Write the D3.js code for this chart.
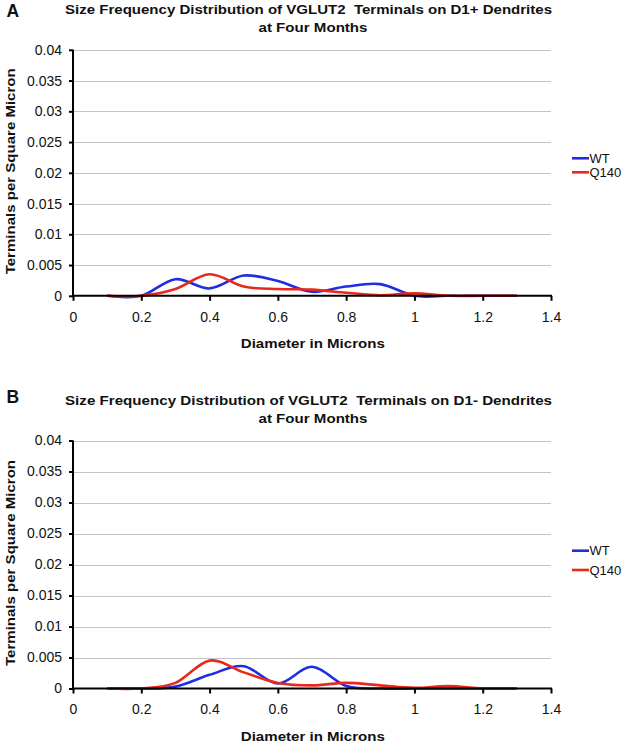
<!DOCTYPE html>
<html><head><meta charset="utf-8">
<script src="https://cdn.jsdelivr.net/npm/d3@7"></script>
<style>html,body{margin:0;padding:0;background:#fff;}svg{display:block;font-family:"Liberation Sans",Arial,Helvetica,sans-serif;}text{white-space:pre;}</style>
</head><body>
<svg id="chart" width="630" height="745"></svg>
<script>
// ---- data ----
const diameters = [0.1,0.2,0.3,0.4,0.5,0.6,0.7,0.8,0.9,1.0,1.1,1.2,1.3];
const seriesNames = ["WT","Q140"];
const panelA_WT   = [0,0,0.0027,0.0012,0.0033,0.0024,0.00065,0.0015,0.0019,0,0,0,0];
const panelA_Q140 = [0,0,0.0011,0.0035,0.0015,0.0011,0.0010,0.0005,0.0001,0.0004,0,0,0];
const panelB_WT   = [0,0,0.0003,0.0022,0.0036,0.0008,0.0035,0.0004,0,0,0,0,0];
const panelB_Q140 = [0,0,0.0009,0.0045,0.0026,0.0009,0.0005,0.0009,0.0005,0.0001,0.0004,0,0];
const yTicks = [0,0.005,0.01,0.015,0.02,0.025,0.03,0.035,0.04];
const xTicks = [0,0.2,0.4,0.6,0.8,1,1.2,1.4];
const panelLetters = ["A","B"];
const titleLine1 = ["Size Frequency Distribution of VGLUT2  Terminals on D1+ Dendrites",
                    "Size Frequency Distribution of VGLUT2  Terminals on D1- Dendrites"];
const titleLine2 = "at Four Months";
const xTitle = "Diameter in Microns";
const yTitle = "Terminals per Square Micron";

const colors = {WT:"#1f2ee0", Q140:"#e8281c"};
const svg = d3.select("#chart");

const panels = [
  {letter:panelLetters[0], t1:titleLine1[0], wt:panelA_WT, q:panelA_Q140,
   y0:295.8, y1:49.8, letterY:16.7, t1Y:13.6, t2Y:32.3, legY:[158.3,172.3]},
  {letter:panelLetters[1], t1:titleLine1[1], wt:panelB_WT, q:panelB_Q140,
   y0:688.5, y1:440.5, letterY:403.3, t1Y:405, t2Y:423, legY:[550.7,570]}
];

const x = d3.scaleLinear().domain([0,1.4]).range([73,551]);

panels.forEach(p => {
  const g = svg.append("g");
  const y = d3.scaleLinear().domain([0,0.04]).range([p.y0,p.y1]);

  // gridlines
  g.append("g").selectAll("line").data(yTicks.filter(d=>d>0)).join("line")
    .attr("x1",x(0)).attr("x2",x(1.4))
    .attr("y1",d=>Math.round(y(d))+0.5).attr("y2",d=>Math.round(y(d))+0.5)
    .attr("stroke","#c4c4c4").attr("stroke-width",1);

  // y axis
  const ya = g.append("g").attr("transform",`translate(${x(0)},0)`)
    .call(d3.axisLeft(y).tickValues(yTicks).tickSize(4).tickPadding(7)
      .tickFormat(d=>d3.format("")(+d.toFixed(3))));
  ya.select(".domain").attr("stroke","#000").attr("stroke-width",2).attr("d",`M0,${p.y1}V${p.y0}`);
  ya.selectAll(".tick line").attr("stroke","#000").attr("stroke-width",2);
  ya.selectAll(".tick text").attr("font-size",14).attr("fill","#111")
    .attr("font-family",'"Liberation Sans",Arial,sans-serif');

  // series lines
  const line = d3.line().x((d,i)=>x(diameters[i])).y(d=>y(d)).curve(d3.curveCatmullRom.alpha(0));
  [[p.wt,colors.WT],[p.q,colors.Q140]].forEach(([vals,c])=>{
    g.append("path").attr("d",line(vals)).attr("fill","none")
      .attr("stroke",c).attr("stroke-width",2.6).attr("stroke-linejoin","round");
  });

  // x axis
  const xa = g.append("g").attr("transform",`translate(0,${p.y0})`)
    .call(d3.axisBottom(x).tickValues(xTicks).tickSize(5).tickPadding(11)
      .tickFormat(d=>d3.format("")(+d.toFixed(1))));
  xa.select(".domain").attr("stroke","#000").attr("stroke-width",2).attr("d",`M${x(0)-1},0H${x(1.4)+1}`);
  xa.selectAll(".tick line").attr("stroke","#000").attr("stroke-width",2);
  xa.selectAll(".tick text").attr("font-size",14).attr("fill","#111")
    .attr("font-family",'"Liberation Sans",Arial,sans-serif');

  // titles
  g.append("text").attr("x",6.5).attr("y",p.letterY).text(p.letter)
    .attr("font-size",17.5).attr("font-weight","bold").attr("fill","#111");
  g.append("text").attr("x",308.5).attr("y",p.t1Y).attr("text-anchor","middle").text(p.t1)
    .attr("font-size",12.8).attr("font-weight","bold").attr("fill","#111")
    .attr("textLength",487).attr("lengthAdjust","spacingAndGlyphs");
  g.append("text").attr("x",313).attr("y",p.t2Y).attr("text-anchor","middle").text(titleLine2)
    .attr("font-size",12.8).attr("font-weight","bold").attr("fill","#111")
    .attr("textLength",109).attr("lengthAdjust","spacingAndGlyphs");
  g.append("text").attr("x",312.8).attr("y",p.y0+52.5).attr("text-anchor","middle").text(xTitle)
    .attr("font-size",13.5).attr("font-weight","bold").attr("fill","#111")
    .attr("textLength",144).attr("lengthAdjust","spacingAndGlyphs");
  const yc = (p.y0+p.y1)/2 - 1.5;
  g.append("text").attr("transform",`translate(14.5,${yc}) rotate(-90)`).attr("text-anchor","middle")
    .text(yTitle).attr("font-size",13.5).attr("font-weight","bold").attr("fill","#111")
    .attr("textLength",206).attr("lengthAdjust","spacingAndGlyphs");

  // legend
  seriesNames.forEach((n,i)=>{
    const ly = p.legY[i];
    g.append("line").attr("x1",572).attr("x2",589).attr("y1",ly).attr("y2",ly)
      .attr("stroke",colors[n]).attr("stroke-width",2.6);
    g.append("text").attr("x",589.5).attr("y",ly+4.6).text(n)
      .attr("font-size",13).attr("fill","#111");
  });
});
</script>
</body></html>
